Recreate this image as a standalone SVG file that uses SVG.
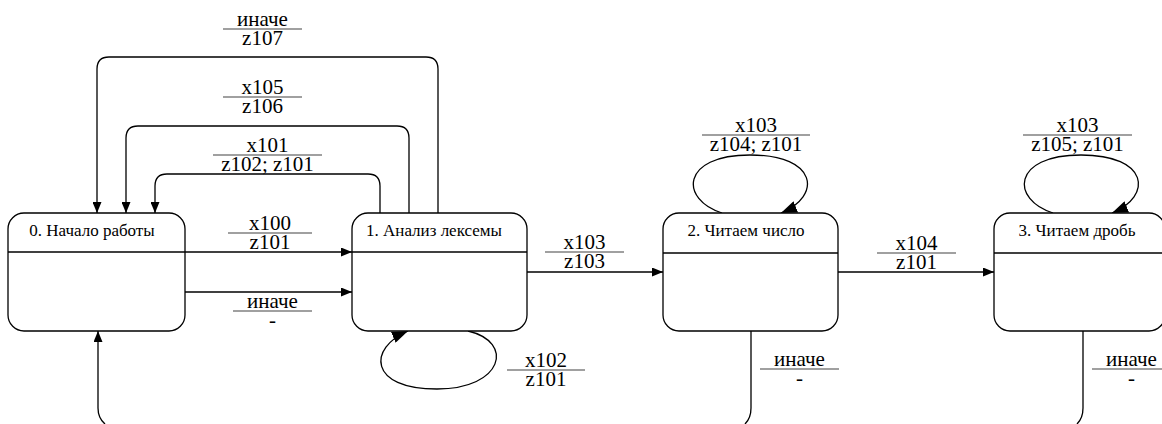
<svg xmlns="http://www.w3.org/2000/svg" width="1162" height="424" viewBox="0 0 1162 424">
<style>
.box{fill:#fff;stroke:#000;stroke-width:1.3}
.div{stroke:#000;stroke-width:1.3}
text{font-family:'Liberation Serif','Times New Roman',Tinos,'DejaVu Serif',serif;fill:#000;text-anchor:middle}
.title{font-size:17px}
.con{fill:none;stroke:#000;stroke-width:1.3}
.lbl{font-size:21px}
.bar{stroke:#808080;stroke-width:1.5}
</style>
<defs>
<marker id="arr" markerUnits="userSpaceOnUse" markerWidth="11" markerHeight="9" refX="11" refY="4.5" orient="auto">
<path d="M0,0 L11,4.5 L0,9 z" fill="#000"/>
</marker>
<marker id="arrL" markerUnits="userSpaceOnUse" markerWidth="16" markerHeight="12" refX="16" refY="6" orient="auto">
<path d="M0,0 L16,6 L0,12 z" fill="#000"/>
</marker>
</defs>
<rect width="1162" height="424" fill="#fff"/>

<g id="connectors">
<path class="con" marker-end="url(#arr)" d="M438,213 L438,69 Q438,57 426,57 L109,57 Q97,57 97,69 L97,213"/>
<path class="con" marker-end="url(#arr)" d="M409,213 L409,138 Q409,126 397,126 L138,126 Q126,126 126,138 L126,213"/>
<path class="con" marker-end="url(#arr)" d="M380,213 L380,186 Q380,174 368,174 L167,174 Q155,174 155,186 L155,213"/>
<path class="con" marker-end="url(#arr)" d="M185,252 L352,252"/>
<path class="con" marker-end="url(#arr)" d="M185,292 L352,292"/>
<path class="con" marker-end="url(#arr)" d="M527,272 L663,272"/>
<path class="con" marker-end="url(#arr)" d="M838,272 L994,272"/>
<path class="con" marker-end="url(#arrL)" d="M468,331 C515,342 503,389 437,389 C368,389 368,348 408,331"/>
<path class="con" marker-end="url(#arrL)" d="M722,213 C680,200 680,155 750,155 C818,155 822,196 781,213"/>
<path class="con" marker-end="url(#arrL)" d="M1053,213 C1011,200 1011,155 1081,155 C1149,155 1153,196 1112,213"/>
<path class="con" marker-end="url(#arr)" d="M105,424 Q98,418 98,408 L98,331"/>
<path class="con" d="M751,331 L751,408 Q751,418 745,424"/>
<path class="con" d="M1083,331 L1083,408 Q1083,418 1077,424"/>
</g>

<g id="labels">
<line class="bar" x1="223" y1="29" x2="302" y2="29"/>
<text class="lbl" x="262.5" y="26">иначе</text>
<text class="lbl" x="262.5" y="45">z107</text>

<line class="bar" x1="223" y1="97" x2="302" y2="97"/>
<text class="lbl" x="262.5" y="94">x105</text>
<text class="lbl" x="262.5" y="113">z106</text>

<line class="bar" x1="213" y1="155" x2="322" y2="155"/>
<text class="lbl" x="267.5" y="152">x101</text>
<text class="lbl" x="267.5" y="171">z102; z101</text>

<line class="bar" x1="228" y1="233" x2="312" y2="233"/>
<text class="lbl" x="270" y="230">x100</text>
<text class="lbl" x="270" y="249">z101</text>

<line class="bar" x1="233" y1="311" x2="312" y2="311"/>
<text class="lbl" x="272.5" y="308">иначе</text>
<text class="lbl" x="272.5" y="327">-</text>

<line class="bar" x1="545" y1="252" x2="624" y2="252"/>
<text class="lbl" x="584.5" y="249">x103</text>
<text class="lbl" x="584.5" y="268">z103</text>

<line class="bar" x1="507" y1="370" x2="585" y2="370"/>
<text class="lbl" x="546" y="367">x102</text>
<text class="lbl" x="546" y="386">z101</text>

<line class="bar" x1="702" y1="135" x2="810" y2="135"/>
<text class="lbl" x="756" y="132">x103</text>
<text class="lbl" x="756" y="151">z104; z101</text>

<line class="bar" x1="877" y1="253" x2="956" y2="253"/>
<text class="lbl" x="916.5" y="250">x104</text>
<text class="lbl" x="916.5" y="269">z101</text>

<line class="bar" x1="760" y1="369" x2="839" y2="369"/>
<text class="lbl" x="799.5" y="366">иначе</text>
<text class="lbl" x="799.5" y="385">-</text>

<line class="bar" x1="1023" y1="135" x2="1132" y2="135"/>
<text class="lbl" x="1077.5" y="132">x103</text>
<text class="lbl" x="1077.5" y="151">z105; z101</text>

<line class="bar" x1="1092" y1="369" x2="1171" y2="369"/>
<text class="lbl" x="1131.5" y="366">иначе</text>
<text class="lbl" x="1131.5" y="385">-</text>
</g>

<g id="node0">
<rect class="box" x="8" y="213" width="177" height="118" rx="16" ry="16"/>
<line class="div" x1="8" y1="252" x2="185" y2="252"/>
<text class="title" x="92" y="236">0. Начало работы</text>
</g>
<g id="node1">
<rect class="box" x="352" y="213" width="175" height="118" rx="16" ry="16"/>
<line class="div" x1="352" y1="252" x2="527" y2="252"/>
<text class="title" x="434" y="236">1. Анализ лексемы</text>
</g>
<g id="node2">
<rect class="box" x="663" y="213" width="175" height="118" rx="16" ry="16"/>
<line class="div" x1="663" y1="253" x2="838" y2="253"/>
<text class="title" x="746" y="236">2. Читаем число</text>
</g>
<g id="node3">
<rect class="box" x="994" y="213" width="171" height="118" rx="16" ry="16"/>
<line class="div" x1="994" y1="253" x2="1165" y2="253"/>
<text class="title" x="1077" y="236">3. Читаем дробь</text>
</g>
</svg>
